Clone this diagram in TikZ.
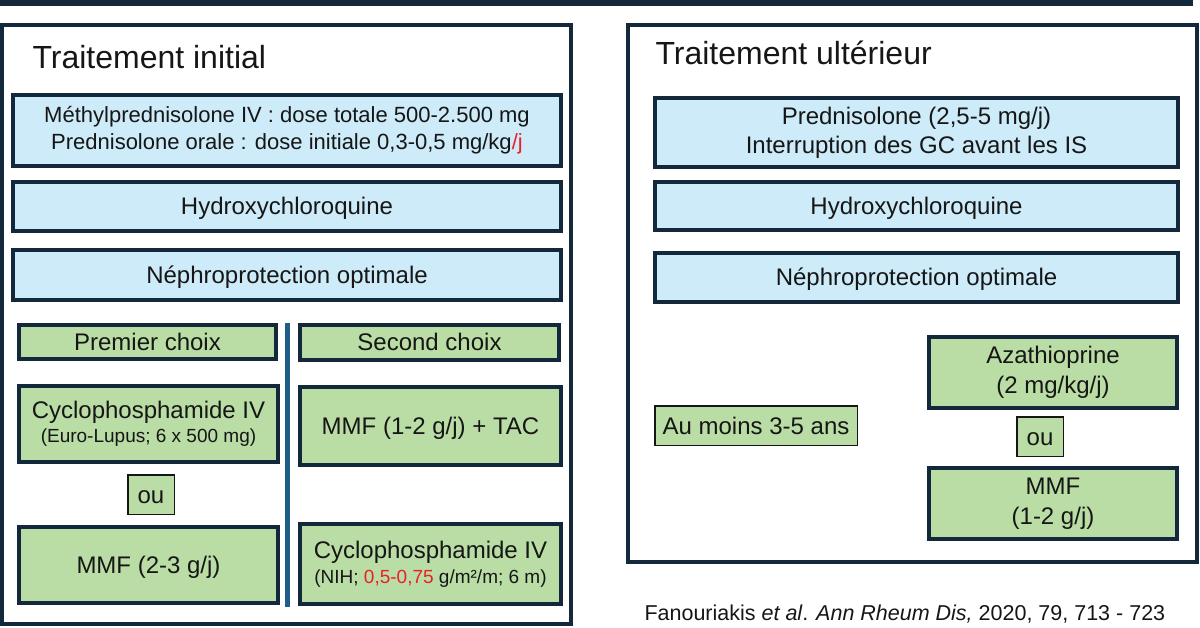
\documentclass[tikz,border=0pt]{standalone}
\usepackage{fontspec}
\setmainfont{Liberation Sans}
\usepackage{tikz}
\definecolor{navy}{HTML}{13283B}
\definecolor{lightblue}{HTML}{CDEBF8}
\definecolor{lightgreen}{HTML}{B9DDA5}
\definecolor{sepblue}{HTML}{1F5F87}
\definecolor{dosered}{HTML}{E8202A}
\definecolor{inkgray}{HTML}{161616}

\begin{document}
\begin{tikzpicture}[x=1pt, y=-1pt,
    every node/.style={text=inkgray},
    bluebox/.style={draw=navy, line width=4pt, fill=lightblue, align=center, inner sep=0pt, font=\fontsize{24}{29}\selectfont},
    greenbox/.style={draw=navy, line width=4pt, fill=lightgreen, align=center, inner sep=0pt, font=\fontsize{24}{30}\selectfont},
    thinbox/.style={draw=inkgray, line width=1.5pt, fill=lightgreen, align=center, inner sep=0pt, font=\fontsize{24}{29}\selectfont},
    capline/.style={text height=17pt, text depth=0pt},
    frametitle/.style={anchor=base west, font=\fontsize{32}{38}\selectfont}]

    \useasboundingbox (0,0) rectangle (1200,628);

    % Bar across the top
    \fill[navy] (0,0) rectangle (1193,6);

    % Draw the two frames
    \draw[navy, line width=4pt] (2,25) rectangle (571,624);
    \draw[navy, line width=4pt] (628,25) rectangle (1197,562);
    \node[frametitle] (titleL) at (29,69) {Traitement initial};
    \node[frametitle] (titleR) at (652,65) {Traitement ultérieur};

    % Left frame: common treatment
    \node[bluebox, minimum width=548pt, minimum height=71pt, font=\fontsize{22}{27}\selectfont] (cortiL) at (287,130.5)
        {Méthylprednisolone IV : dose totale 500-2.500 mg\\Prednisolone orale : dose initiale 0,3-0,5 mg/kg{\color{dosered}/j}};
    \node[bluebox, capline, minimum width=548pt, minimum height=49pt] (hcqL) at (287,206.5) {Hydroxychloroquine};
    \node[bluebox, capline, minimum width=548pt, minimum height=50pt] (nephroL) at (287,275.5) {Néphroprotection optimale};

    % Left frame: first and second choice
    \node[greenbox, capline, minimum width=257pt, minimum height=34pt] (first) at (147.5,342) {Premier choix};
    \node[greenbox, capline, minimum width=259pt, minimum height=35pt] (second) at (429.5,342.5) {Second choix};
    \node[greenbox, minimum width=259pt, minimum height=76pt] (cycloEL) at (148.5,424)
        {Cyclophosphamide IV\\[-6pt]{\fontsize{19}{22}\selectfont (Euro-Lupus; 6 x 500 mg)}};
    \node[thinbox, capline, minimum width=46.5pt, minimum height=39.5pt] (ouL) at (151,494.5) {ou};
    \node[greenbox, capline, minimum width=259pt, minimum height=76pt] (mmfL) at (148.5,565) {MMF (2-3 g/j)};
    \node[greenbox, capline, minimum width=261pt, minimum height=78pt] (mmftac) at (430.5,426) {MMF (1-2 g/j) + TAC};
    \node[greenbox, minimum width=261pt, minimum height=80pt] (cycloNIH) at (430.5,564)
        {Cyclophosphamide IV\\[-5pt]{\fontsize{19}{22}\selectfont (NIH; {\color{dosered}0,5-0,75} g/m²/m; 6 m)}};
    \draw[sepblue, line width=5pt] (287,323) -- (287,607);

    % Right frame: maintenance
    \node[bluebox, minimum width=523pt, minimum height=69pt] (predR) at (916.5,132.5)
        {Prednisolone (2,5-5 mg/j)\\Interruption des GC avant les IS};
    \node[bluebox, capline, minimum width=523pt, minimum height=48pt] (hcqR) at (916.5,206) {Hydroxychloroquine};
    \node[bluebox, capline, minimum width=523pt, minimum height=49pt] (nephroR) at (916.5,277.5) {Néphroprotection optimale};
    \node[thinbox, capline, minimum width=202.5pt, minimum height=39.5pt] (duree) at (756,425.5) {Au moins 3-5 ans};
    \node[greenbox, minimum width=248pt, minimum height=71pt] (aza) at (1053,372.5) {Azathioprine\\(2 mg/kg/j)};
    \node[thinbox, capline, minimum width=46.5pt, minimum height=39.5pt] (ouR) at (1040,436.5) {ou};
    \node[greenbox, minimum width=248pt, minimum height=71pt] (mmfR) at (1053,503.5) {MMF\\(1-2 g/j)};

    % Reference
    \node[anchor=base west, font=\fontsize{21.5}{26}\selectfont] (source) at (641,620)
        {Fanouriakis \textit{et al}. \textit{Ann Rheum Dis,} 2020, 79, 713 - 723};

\end{tikzpicture}
\end{document}
